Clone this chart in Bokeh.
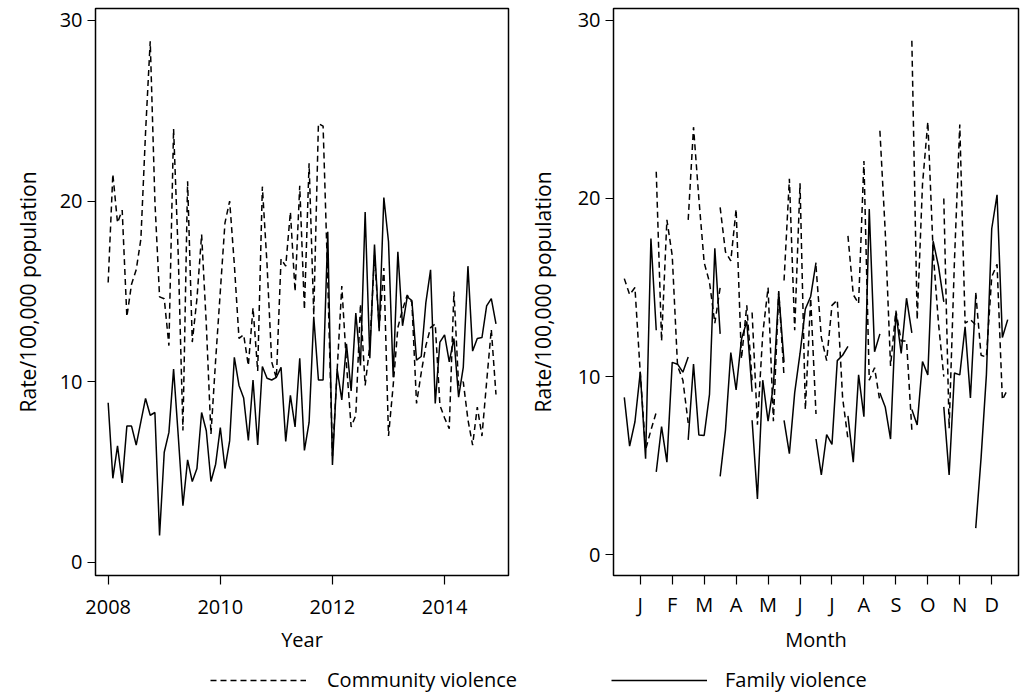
from bokeh.plotting import figure
from bokeh.models import FixedTicker, Range1d, Legend, LegendItem
from bokeh.layouts import column, row
from bokeh.embed import file_html
from bokeh.resources import INLINE

FONT = "Open Sans"
FS = "20px"
FS_Y = "21px"

start_year = 2008
n_years = 7
year_ticks = [2008, 2010, 2012, 2014]
month_labels = ["J", "F", "M", "A", "M", "J", "J", "A", "S", "O", "N", "D"]
y_ticks = [0, 10, 20, 30]

# Monthly rates per 100,000 population, Jan 2008 .. Dec 2014
community = [
    15.5, 21.5, 18.8, 19.5, 13.6, 15.4, 16.2, 17.9, 23.8, 28.85, 20.0, 14.7,
    14.6, 12.0, 24.0, 17.0, 7.3, 21.1, 12.2, 14.6, 18.15, 13.2, 7.1, 11.2,
    15.0, 18.8, 20.0, 16.5, 12.4, 12.6, 10.9, 14.1, 10.6, 20.8, 16.5, 11.1,
    10.2, 16.8, 16.4, 19.4, 15.0, 20.85, 14.0, 22.1, 13.7, 24.3, 24.15, 15.6,
    5.9, 10.6, 15.3, 11.0, 7.5, 8.15, 14.3, 9.8, 12.0, 17.0, 13.0, 16.3,
    7.0, 9.8, 13.0, 14.0, 14.8, 14.4, 8.8, 10.5, 12.0, 13.0, 13.2, 8.7,
    8.0, 7.4, 15.0, 9.8, 10.0, 7.9, 6.5, 8.6, 7.0, 10.0, 12.9, 9.3,
]
family = [
    8.84, 4.66, 6.45, 4.4, 7.55, 7.55, 6.5, 7.8, 9.08, 8.15, 8.3, 1.5,
    6.1, 7.2, 10.7, 7.0, 3.14, 5.68, 4.48, 5.2, 8.3, 7.29, 4.48, 5.44,
    7.47, 5.2, 6.73, 11.35, 9.8, 9.1, 6.75, 10.1, 6.5, 10.85, 10.2, 10.1,
    10.25, 10.8, 6.7, 9.25, 7.5, 11.3, 6.2, 7.75, 13.6, 10.1, 10.1, 18.3,
    5.4, 10.7, 9.0, 12.1, 9.5, 13.8, 10.9, 19.4, 11.3, 17.6, 12.8, 20.2,
    17.75, 10.25, 17.2, 13.1, 14.7, 14.5, 11.2, 11.4, 14.4, 16.2, 8.8, 12.2,
    12.6, 11.1, 12.4, 9.15, 10.8, 16.4, 11.7, 12.4, 12.45, 14.2, 14.6, 13.2,
]

n = len(community)
t = [start_year + i / 12 for i in range(n)]


def style(p, label_standoff, title_standoff):
    p.outline_line_color = "black"
    p.outline_line_width = 1.5
    p.xgrid.visible = False
    p.ygrid.visible = False
    p.background_fill_color = "white"
    p.border_fill_color = "white"
    for ax in (p.xaxis[0], p.yaxis[0]):
        ax.axis_line_color = None
        ax.major_tick_line_color = "black"
        ax.major_tick_line_width = 1.2
        ax.major_tick_in = 0
        ax.minor_tick_line_color = None
        ax.major_label_text_font = FONT
        ax.major_label_text_font_size = FS
        ax.major_label_text_color = "black"
        ax.axis_label_text_font = FONT
        ax.axis_label_text_font_size = FS
        ax.axis_label_text_font_style = "normal"
        ax.axis_label_text_color = "black"
    p.yaxis[0].major_tick_out = 8
    p.xaxis[0].major_tick_out = 9
    p.yaxis[0].ticker = FixedTicker(ticks=y_ticks)
    p.yaxis[0].major_label_orientation = "horizontal"
    p.yaxis[0].axis_label = "Rate/100,000 population"
    p.yaxis[0].axis_label_text_font_size = FS_Y
    p.yaxis[0].axis_label_standoff = 15
    p.xaxis[0].major_label_standoff = label_standoff
    p.xaxis[0].axis_label_standoff = title_standoff


# Left: time series
p1 = figure(width=525, height=655, output_backend="svg", toolbar_location=None,
            x_range=Range1d(2007.774, 2015.14), y_range=Range1d(-0.72, 30.66),
            min_border_left=95, min_border_right=17, min_border_top=8, min_border_bottom=79)
p1.line(t, community, line_color="black", line_width=1.5, line_dash="6 4")
p1.line(t, family, line_color="black", line_width=1.5)
style(p1, 15, 9)
p1.xaxis[0].ticker = FixedTicker(ticks=year_ticks)
p1.xaxis[0].axis_label = "Year"

# Right: month subseries
xs, ys_c, ys_f = [], [], []
for m in range(12):
    xs.append([m + 1 + (k - (n_years - 1) / 2) / 6 for k in range(n_years)])
    ys_c.append([community[k * 12 + m] for k in range(n_years)])
    ys_f.append([family[k * 12 + m] for k in range(n_years)])

p2 = figure(width=502, height=655, output_backend="svg", toolbar_location=None,
            x_range=Range1d(0.162, 12.838), y_range=Range1d(-1.16, 30.66),
            min_border_left=81, min_border_right=9, min_border_top=8, min_border_bottom=71)
p2.multi_line(xs, ys_c, line_color="black", line_width=1.5, line_dash="6 4")
p2.multi_line(xs, ys_f, line_color="black", line_width=1.5)
style(p2, 6, 5)
p2.yaxis[0].axis_label_standoff = 18
p2.xaxis[0].ticker = FixedTicker(ticks=list(range(1, 13)))
p2.xaxis[0].major_label_overrides = {i + 1: lab for i, lab in enumerate(month_labels)}
p2.xaxis[0].axis_label = "Month"

# Legend strip (its sample renderers hold the data but lie outside the strip's ranges)
pl = figure(width=1027, height=40, output_backend="svg", toolbar_location=None,
            min_border=0, outline_line_color=None, x_range=Range1d(0, 1), y_range=Range1d(0, 1))
pl.xaxis.visible = False
pl.yaxis.visible = False
pl.xgrid.visible = False
pl.ygrid.visible = False
rc = pl.line(t, community, line_color="black", line_width=1.5, line_dash="6 4")
rf = pl.line(t, family, line_color="black", line_width=1.5)
for r, lab, xloc, stand in ((rc, "Community violence", 210, 21), (rf, "Family violence", 611, 18)):
    lg = Legend(items=[LegendItem(label=lab, renderers=[r])], location=(xloc, 2),
                orientation="horizontal", glyph_width=96, glyph_height=20,
                label_standoff=stand, padding=0, margin=0, border_line_color=None,
                background_fill_alpha=0, label_text_font=FONT, label_text_font_size=FS,
                label_text_color="black")
    pl.add_layout(lg)

layout = column(row(p1, p2), pl)
open("out.html", "w").write(file_html(layout, INLINE))
